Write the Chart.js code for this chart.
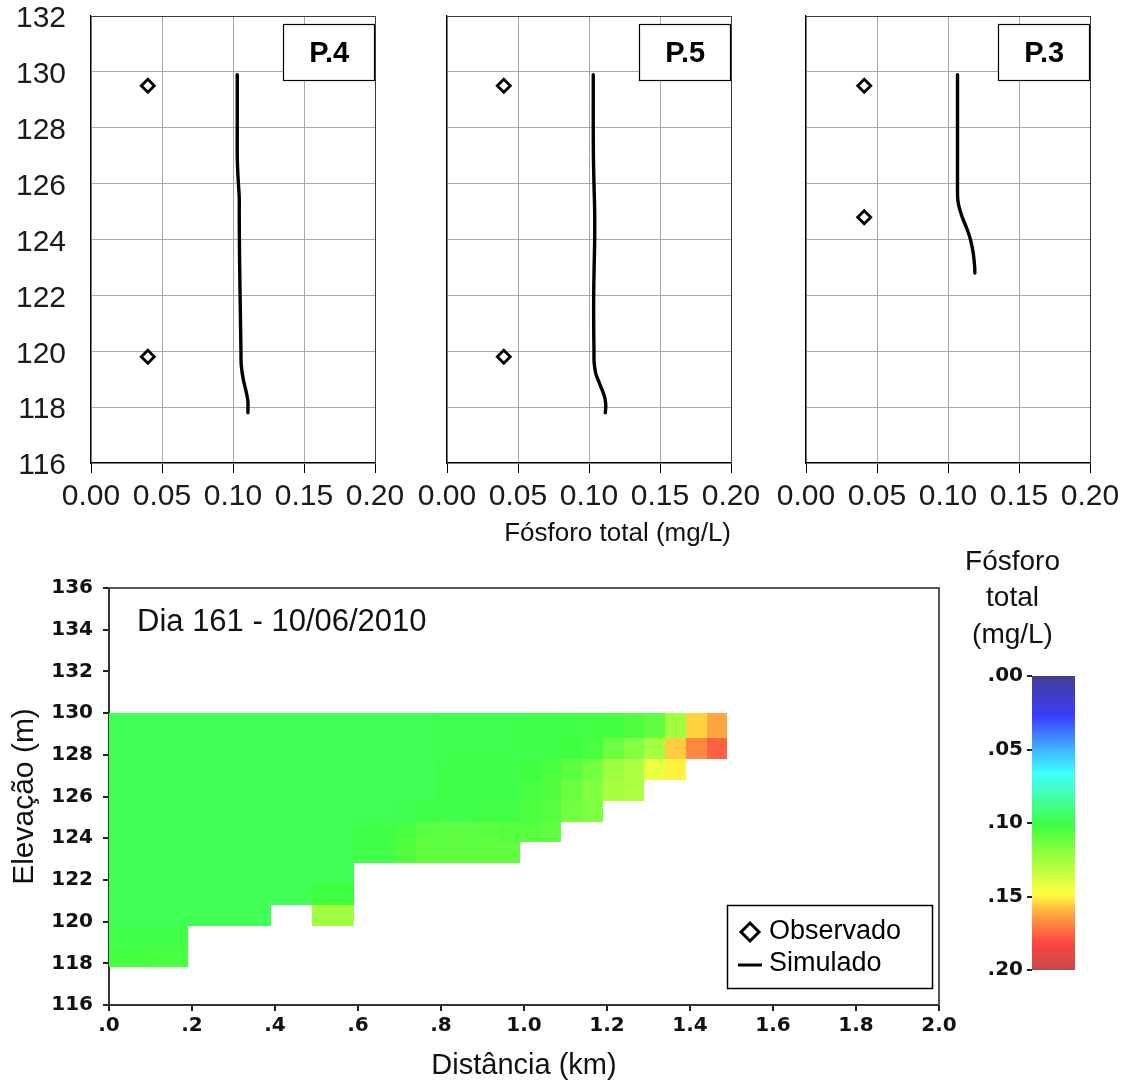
<!DOCTYPE html>
<html>
<head>
<meta charset="utf-8">
<title>Fósforo total – perfis e seção longitudinal</title>
<script src="https://cdn.jsdelivr.net/npm/chart.js@4.4.1/dist/chart.umd.min.js"></script>
<style>
  html, body { margin: 0; padding: 0; background: #fff; }
  body { width: 1133px; height: 1088px; position: relative; overflow: hidden; }
  canvas { position: absolute; }
</style>
</head>
<body>
<canvas id="profileP4" width="415" height="555" style="left:0;top:0"></canvas>
<canvas id="profileP5" width="415" height="555" style="left:356px;top:0"></canvas>
<canvas id="profileP3" width="415" height="555" style="left:715px;top:0"></canvas>
<canvas id="section" width="960" height="528" style="left:0;top:560px"></canvas>
<canvas id="colorbar" width="180" height="446" style="left:950px;top:540px"></canvas>

<script>
// ---------- Vertical profiles: total phosphorus (mg/L) vs elevation (m) ----------
const profileTicksTP = [0, 0.05, 0.10, 0.15, 0.20];

// P.4
const p4SimElev = [129.9, 129, 128, 127, 126.5, 126, 125.5, 125, 124, 123, 122, 121, 120, 119.5, 119, 118.5, 118.2, 117.8];
const p4SimTP   = [0.1030, 0.1030, 0.1030, 0.1030, 0.1033, 0.1038, 0.1044, 0.1044, 0.1045, 0.1047, 0.1050, 0.1053, 0.1056, 0.1058, 0.1072, 0.1095, 0.1105, 0.1105];
const p4ObsElev = [129.5, 119.8];
const p4ObsTP   = [0.040, 0.040];

// P.5
const p5SimElev = [129.9, 129, 128, 127, 126, 125, 124, 123, 122, 121, 120, 119.6, 119.2, 118.8, 118.4, 118.1, 117.8];
const p5SimTP   = [0.1030, 0.1030, 0.1030, 0.1031, 0.1035, 0.1040, 0.1040, 0.1036, 0.1033, 0.1033, 0.1035, 0.1036, 0.1048, 0.1078, 0.1108, 0.1118, 0.1115];
const p5ObsElev = [129.5, 119.8];
const p5ObsTP   = [0.040, 0.040];

// P.3
const p3SimElev = [129.9, 129, 128, 127, 126, 125.5, 125.2, 124.8, 124.4, 124.0, 123.5, 123.0, 122.8];
const p3SimTP   = [0.1067, 0.1067, 0.1067, 0.1067, 0.1067, 0.1068, 0.1076, 0.1100, 0.1132, 0.1158, 0.1178, 0.1188, 0.1189];
const p3ObsElev = [129.5, 124.8];
const p3ObsTP   = [0.041, 0.041];

// ---------- Longitudinal section (day 161) ----------
const distTickLabels = ['.0', '.2', '.4', '.6', '.8', '1.0', '1.2', '1.4', '1.6', '1.8', '2.0'];
// segment boundaries along the reservoir (km)
const colEdgesKm = [0, 0.04, 0.09, 0.14, 0.19, 0.24, 0.29, 0.34, 0.39, 0.44, 0.49, 0.54, 0.59, 0.64, 0.69, 0.74,
                    0.79, 0.84, 0.89, 0.94, 0.99, 1.04, 1.09, 1.14, 1.19, 1.24, 1.29, 1.34, 1.39, 1.44, 1.49];
// layer boundaries, surface to bottom (m)
const layerEdgesM = [130, 128.8, 127.8, 126.8, 125.8, 124.8, 123.8, 122.8, 121.8, 120.8, 119.8, 118.8, 117.8];
const _ = null;
// total phosphorus (mg/L) per layer (rows, surface first) and segment (columns)
const tpGrid = [
  [.098,.098,.098,.098,.098,.098,.098,.098,.098,.098,.098,.098,.098,.098,.098,.098,.099,.099,.099,.099,.100,.100,.101,.101,.103,.106,.110,.125,.155,.162],
  [.098,.098,.098,.098,.098,.098,.098,.098,.098,.098,.098,.098,.098,.098,.098,.098,.099,.099,.099,.099,.100,.100,.102,.104,.112,.118,.126,.156,.168,.176],
  [.098,.098,.098,.098,.098,.098,.098,.098,.098,.098,.098,.098,.098,.098,.098,.098,.100,.100,.100,.100,.102,.104,.108,.114,.124,.128,.143,.150,_,_],
  [.098,.098,.098,.098,.098,.098,.098,.098,.098,.098,.098,.098,.098,.098,.098,.098,.100,.100,.100,.100,.104,.106,.112,.118,.127,.128,_,_,_,_],
  [.098,.098,.098,.098,.098,.098,.098,.098,.098,.098,.098,.098,.098,.098,.099,.100,.100,.100,.101,.101,.105,.107,.114,.117,_,_,_,_,_,_],
  [.098,.098,.098,.098,.098,.098,.098,.098,.098,.098,.098,.098,.100,.101,.104,.108,.109,.109,.108,.107,.107,.109,_,_,_,_,_,_,_,_],
  [.098,.098,.098,.098,.098,.098,.098,.098,.098,.098,.098,.098,.100,.101,.106,.110,.110,.110,.110,.110,_,_,_,_,_,_,_,_,_,_],
  [.098,.098,.098,.098,.098,.098,.098,.098,.098,.098,.098,.098,_,_,_,_,_,_,_,_,_,_,_,_,_,_,_,_,_,_],
  [.098,.098,.098,.098,.098,.098,.098,.098,.098,.098,.102,.102,_,_,_,_,_,_,_,_,_,_,_,_,_,_,_,_,_,_],
  [.098,.098,.098,.098,.098,.098,.098,.098,_,_,.125,.125,_,_,_,_,_,_,_,_,_,_,_,_,_,_,_,_,_,_],
  [.100,.100,.100,.100,_,_,_,_,_,_,_,_,_,_,_,_,_,_,_,_,_,_,_,_,_,_,_,_,_,_],
  [.103,.103,.104,.104,_,_,_,_,_,_,_,_,_,_,_,_,_,_,_,_,_,_,_,_,_,_,_,_,_,_]
];

// ---------- Colour scale ----------
const tpTickStep = 0.05;
const cmapValues = [0, 0.027, 0.05, 0.066, 0.102, 0.148, 0.163, 0.182, 0.20];
const cmapColors = ['#40408f', '#3c3cff', '#40b4ff', '#40ffff', '#40ff40', '#ffff40', '#ffa040', '#ff4444', '#c44a4a'];

// ---------------------------------------------------------------------------
const SANS = '"Liberation Sans", Arial, sans-serif';
const BOLD_TICK = { family: '"DejaVu Sans", sans-serif', weight: 'bold', size: 20 };
Chart.defaults.font.family = SANS;
Chart.defaults.color = '#111';

const cmapRGB = cmapColors.map(h => [1, 3, 5].map(i => parseInt(h.slice(i, i + 2), 16)));
function tpColor(v) {
  if (v <= cmapValues[0]) return cmapColors[0];
  const n = cmapValues.length;
  if (v >= cmapValues[n - 1]) return cmapColors[n - 1];
  let k = 0;
  while (v > cmapValues[k + 1]) k++;
  const t = (v - cmapValues[k]) / (cmapValues[k + 1] - cmapValues[k]);
  const a = cmapRGB[k], b = cmapRGB[k + 1];
  const c = a.map((ch, i) => Math.round(ch + (b[i] - ch) * t));
  return `rgb(${c[0]},${c[1]},${c[2]})`;
}

// station name box in the upper right corner of each profile
const stationLabel = {
  id: 'stationLabel',
  afterDatasetsDraw(chart, args, opts) {
    const { ctx, scales: { x, y } } = chart;
    const l = x.getPixelForValue(0.1355), r = x.getPixelForValue(0.2);
    const t = y.getPixelForValue(131.7), b = y.getPixelForValue(129.68);
    ctx.save();
    ctx.fillStyle = '#fff';
    ctx.fillRect(l, t, r - l, b - t);
    ctx.strokeStyle = '#000';
    ctx.lineWidth = 1.2;
    ctx.strokeRect(Math.round(l) + 0.5, Math.round(t) + 0.5, Math.round(r - l) - 1, Math.round(b - t));
    ctx.fillStyle = '#000';
    ctx.font = 'bold 29px ' + SANS;
    ctx.textAlign = 'center';
    ctx.textBaseline = 'middle';
    ctx.fillText(opts.text, (l + r) / 2, (t + b) / 2 + 1);
    ctx.restore();
  }
};

// darker outline on the top and right of a plot area
const plotFrame = {
  id: 'plotFrame',
  afterDraw(chart, args, opts) {
    const { ctx, chartArea: a } = chart;
    ctx.save();
    ctx.strokeStyle = opts.color || '#333';
    ctx.lineWidth = opts.width || 1;
    const o = (ctx.lineWidth % 2) ? 0.5 : 0;
    ctx.beginPath();
    ctx.moveTo(Math.round(a.left), Math.round(a.top) + o);
    ctx.lineTo(Math.round(a.right) + o, Math.round(a.top) + o);
    ctx.lineTo(Math.round(a.right) + o, Math.round(a.bottom));
    ctx.stroke();
    ctx.restore();
  }
};

const obsStyle = { pointStyle: 'rectRot', pointRadius: 6.5, pointBorderWidth: 2.8, pointBorderColor: '#000', pointBackgroundColor: '#fff' };
const simStyle = { borderColor: '#000', borderWidth: 3.4 };

function profileChart(id, name, simTP, simElev, obsTP, obsElev, showY, xTitle) {
  return new Chart(document.getElementById(id), {
    type: 'scatter',
    data: {
      datasets: [
        Object.assign({
          label: 'Observado',
          data: obsTP.map((v, i) => ({ x: v, y: obsElev[i] })),
          showLine: false, order: 0
        }, obsStyle),
        Object.assign({
          label: 'Simulado',
          data: simTP.map((v, i) => ({ x: v, y: simElev[i] })),
          showLine: true, pointRadius: 0, tension: 0.35, borderCapStyle: 'round', order: 1
        }, simStyle)
      ]
    },
    options: {
      responsive: false, animation: false, devicePixelRatio: 1,
      layout: { padding: { top: 16, right: 40, bottom: 0, left: 0 } },
      plugins: {
        legend: { display: false }, tooltip: { enabled: false },
        stationLabel: { text: name },
        plotFrame: { color: '#3a3a3a', width: 1 }
      },
      scales: {
        x: {
          type: 'linear', min: 0, max: 0.2,
          afterBuildTicks: s => { s.ticks = profileTicksTP.map(v => ({ value: v })); },
          ticks: { callback: v => v.toFixed(2), font: { size: 30 }, color: '#1a1a1a', padding: 6, maxRotation: 0, autoSkip: false },
          grid: { color: '#a8a8a8', tickColor: '#000', tickLength: 10, lineWidth: 1 },
          border: { color: '#000', width: 1.3 },
          title: { display: !!xTitle, text: xTitle || '', align: 'end', font: { size: 26 }, color: '#111', padding: { top: 0, bottom: 6 } },
          afterFit: s => { s.height = 92; }
        },
        y: {
          type: 'linear', min: 116, max: 132,
          ticks: { stepSize: 2, display: showY, font: { size: 30 }, color: '#1a1a1a', padding: 25, labelOffset: 3 },
          grid: { color: '#a8a8a8', drawTicks: false, lineWidth: 1 },
          border: { color: '#000', width: 1.3 },
          afterFit: s => { s.width = 91; s.paddingTop = 0; s.paddingBottom = 0; }
        }
      }
    },
    plugins: [stationLabel, plotFrame]
  });
}

profileChart('profileP4', 'P.4', p4SimTP, p4SimElev, p4ObsTP, p4ObsElev, true, null);
profileChart('profileP5', 'P.5', p5SimTP, p5SimElev, p5ObsTP, p5ObsElev, false, 'Fósforo total (mg/L)');
profileChart('profileP3', 'P.3', p3SimTP, p3SimElev, p3ObsTP, p3ObsElev, false, null);

// ---------- section: coloured cells ----------
const sectionCells = {
  id: 'sectionCells',
  beforeDatasetsDraw(chart) {
    const { ctx, chartArea: a, scales: { x, y } } = chart;
    ctx.save();
    ctx.beginPath();
    ctx.rect(a.left, a.top, a.width, a.height);
    ctx.clip();
    tpGrid.forEach((row, r) => {
      const y0 = Math.round(y.getPixelForValue(layerEdgesM[r]));
      const y1 = Math.round(y.getPixelForValue(layerEdgesM[r + 1]));
      row.forEach((v, c) => {
        if (v === null) return;
        const x0 = Math.round(x.getPixelForValue(colEdgesKm[c]));
        const x1 = Math.round(x.getPixelForValue(colEdgesKm[c + 1]));
        ctx.fillStyle = tpColor(v);
        ctx.fillRect(x0, y0, x1 - x0, y1 - y0);
      });
    });
    ctx.restore();
  }
};

const sectionNotes = {
  id: 'sectionNotes',
  afterDraw(chart) {
    const { ctx, chartArea: a } = chart;
    ctx.save();
    // date label
    ctx.fillStyle = '#111';
    ctx.font = '31px ' + SANS;
    ctx.textBaseline = 'middle';
    ctx.textAlign = 'left';
    ctx.fillText('Dia 161 - 10/06/2010', a.left + 28, a.top + 34);

    // legend for the profile series
    const w = 205, h = 83;
    const bx = Math.round(a.right - 7 - w), by = Math.round(a.bottom - 17 - h);
    ctx.fillStyle = '#fff';
    ctx.fillRect(bx, by, w, h);
    ctx.strokeStyle = '#000';
    ctx.lineWidth = 1.5;
    ctx.strokeRect(bx + 0.5, by + 0.5, w, h);

    ctx.lineWidth = 3;
    ctx.strokeStyle = obsStyle.pointBorderColor;
    ctx.fillStyle = obsStyle.pointBackgroundColor;
    Chart.helpers.drawPoint(ctx, { pointStyle: 'rectRot', radius: 9, borderWidth: 3 }, bx + 23, by + 27);

    ctx.strokeStyle = simStyle.borderColor;
    ctx.lineWidth = 3;
    ctx.beginPath();
    ctx.moveTo(bx + 11, by + 60);
    ctx.lineTo(bx + 35, by + 60);
    ctx.stroke();

    ctx.fillStyle = '#000';
    ctx.font = '27px ' + SANS;
    ctx.fillText('Observado', bx + 42, by + 27);
    ctx.fillText('Simulado', bx + 42, by + 59);
    ctx.restore();
  }
};

new Chart(document.getElementById('section'), {
  type: 'scatter',
  data: { datasets: [] },
  options: {
    responsive: false, animation: false, devicePixelRatio: 1,
    layout: { padding: { top: 28, right: 21, bottom: 0, left: 0 } },
    plugins: { legend: { display: false }, tooltip: { enabled: false }, plotFrame: { color: '#555', width: 2 } },
    scales: {
      x: {
        type: 'linear', min: 0, max: 2,
        ticks: { stepSize: 0.2, callback: (v, i) => distTickLabels[i], font: BOLD_TICK, color: '#111', padding: 3, maxRotation: 0, autoSkip: false },
        grid: { drawOnChartArea: false, tickLength: 6, tickColor: '#222', lineWidth: 2 },
        border: { color: '#333', width: 2 },
        title: { display: true, text: 'Distância (km)', font: { size: 29 }, color: '#111', padding: { top: 0, bottom: 5 } },
        afterFit: s => { s.height = 83; }
      },
      y: {
        type: 'linear', min: 116, max: 136,
        ticks: { stepSize: 2, font: BOLD_TICK, color: '#111', padding: 10 },
        grid: { drawOnChartArea: false, tickLength: 6, tickColor: '#222', lineWidth: 2 },
        border: { color: '#333', width: 2 },
        title: { display: true, text: 'Elevação (m)', font: { size: 30 }, color: '#111', padding: { top: 7, bottom: 0 } },
        afterFit: s => { s.width = 109; }
      }
    }
  },
  plugins: [sectionCells, plotFrame, sectionNotes]
});

// ---------- colour bar ----------
const colorRamp = {
  id: 'colorRamp',
  beforeDatasetsDraw(chart) {
    const { ctx, chartArea: a, scales: { y } } = chart;
    ctx.save();
    for (let py = Math.round(a.top); py < Math.round(a.bottom); py++) {
      ctx.fillStyle = tpColor(y.getValueForPixel(py + 0.5));
      ctx.fillRect(a.left, py, a.width, 1);
    }
    ctx.restore();
  }
};

new Chart(document.getElementById('colorbar'), {
  type: 'scatter',
  data: { datasets: [] },
  options: {
    responsive: false, animation: false, devicePixelRatio: 1,
    layout: { padding: { top: 0, right: 55, bottom: 12, left: 0 } },
    plugins: {
      legend: { display: false }, tooltip: { enabled: false },
      title: {
        display: true, text: ['Fósforo', 'total', '(mg/L)'],
        font: { size: 28, weight: 'normal', lineHeight: 1.3 }, color: '#111',
        padding: { top: 4, bottom: 23 }
      }
    },
    scales: {
      x: { display: false, min: 0, max: 1 },
      y: {
        type: 'linear', min: 0, max: 0.2, reverse: true,
        ticks: { stepSize: tpTickStep, callback: v => v.toFixed(2).replace(/^0/, ''), font: BOLD_TICK, color: '#111', padding: 4 },
        grid: { drawOnChartArea: false, tickLength: 5, tickColor: '#222', lineWidth: 2 },
        border: { display: false },
        afterFit: s => { s.width = 82; }
      }
    }
  },
  plugins: [colorRamp]
});
</script>
</body>
</html>
